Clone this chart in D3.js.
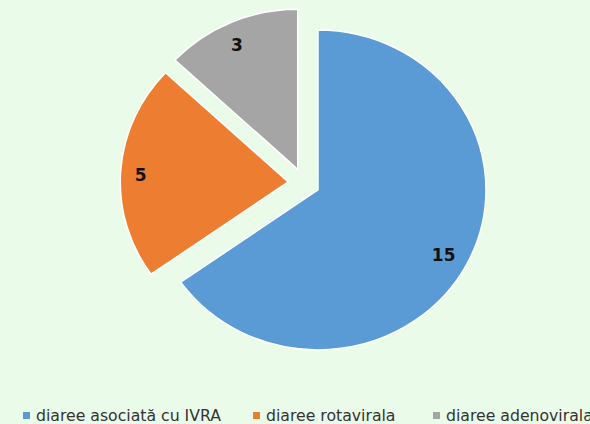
<!DOCTYPE html>
<html>
<head>
<meta charset="utf-8">
<script src="https://cdn.jsdelivr.net/npm/d3@7"></script>
<style>
  html, body { margin: 0; padding: 0; background: #eafbea; }
  svg { display: block; }
</style>
</head>
<body>
<div id="main"></div>
<script>
// chart data
const categories = ['diaree asociată cu IVRA', 'diaree rotavirala', 'diaree adenovirala'];
const values = [15, 5, 3];
const colors = ['#5b9bd5', '#ed7d31', '#a5a5a5'];

// layout
const width = 590;
const height = 424;
const center = { x: 304, y: 183 };
const radius = 160;
const stretchX = 1.05;   // the original picture is a bit wider than tall
const explode = 15;
const labelRadius = 138;

const dataset = categories.map((name, i) => ({ name, value: values[i], color: colors[i] }));

const svg = d3.select('#main')
  .append('svg')
  .attr('width', width)
  .attr('height', height);

const pie = d3.pie()
  .value((d) => d.value)
  .sort(null);

const arc = d3.arc()
  .innerRadius(0)
  .outerRadius(radius);

const arcs = pie(dataset);

// offset of one slice away from the centre, along its middle angle
function sliceOffset(d, dist) {
  const mid = (d.startAngle + d.endAngle) / 2;
  return [Math.sin(mid) * dist, -Math.cos(mid) * dist];
}

const slices = svg.append('g')
  .selectAll('g')
  .data(arcs)
  .enter()
  .append('g')
  .attr('transform', (d) => {
    const [dx, dy] = sliceOffset(d, explode);
    return `translate(${center.x + dx * stretchX}, ${center.y + dy}) scale(${stretchX}, 1)`;
  });

slices.append('path')
  .attr('d', arc)
  .attr('fill', (d) => d.data.color)
  .attr('stroke', '#ffffff')
  .attr('stroke-width', 1.5)
  .attr('vector-effect', 'non-scaling-stroke');

// value labels, drawn unscaled so the digits keep their shape
svg.append('g')
  .selectAll('text')
  .data(arcs)
  .enter()
  .append('text')
  .attr('x', (d) => {
    const [dx] = sliceOffset(d, explode + labelRadius);
    return center.x + dx * stretchX - 3;
  })
  .attr('y', (d) => center.y + sliceOffset(d, explode + labelRadius)[1] + 2)
  .attr('text-anchor', 'middle')
  .attr('dominant-baseline', 'central')
  .attr('font-family', 'DejaVu Sans, sans-serif')
  .attr('font-weight', 'bold')
  .attr('font-size', 17)
  .attr('fill', '#111111')
  .text((d) => d.data.value);

// legend
const legendX = [23, 253, 433];
const legendY = 416;

const legend = svg.append('g')
  .selectAll('g')
  .data(dataset)
  .enter()
  .append('g')
  .attr('transform', (d, i) => `translate(${legendX[i]}, ${legendY})`);

legend.append('rect')
  .attr('x', 0)
  .attr('y', -4)
  .attr('width', 7)
  .attr('height', 7)
  .attr('fill', (d) => d.color);

legend.append('text')
  .attr('x', 13)
  .attr('y', 5)
  .attr('font-family', 'DejaVu Sans, sans-serif')
  .attr('font-size', 15.7)
  .attr('fill', '#333333')
  .text((d) => d.name);
</script>
</body>
</html>
